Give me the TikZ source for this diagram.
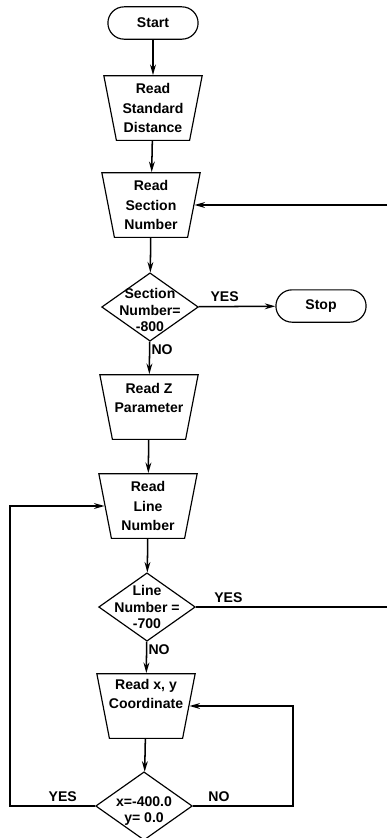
\documentclass[tikz,border=0pt]{standalone}
\usepackage{fontspec}
\setmainfont{Liberation Sans}
\usetikzlibrary{arrows.meta,shapes.geometric,shapes.misc}

\begin{document}
\begin{tikzpicture}[x=0.03cm,y=-0.03cm,
    every node/.style={font=\bfseries\fontsize{12}{17}\selectfont},
    term/.style={rounded rectangle,draw,line width=1pt,minimum width=2.94cm,minimum height=0.97cm},
    readbox/.style={trapezium,draw,line width=1pt,shape border rotate=180,trapezium angle=79,
        trapezium stretches body,minimum width=2.95cm,inner xsep=0pt,inner ysep=0.97cm},
    decide/.style={diamond,draw,line width=1pt,minimum width=2.9cm,minimum height=2.05cm,inner sep=0pt},
    boxtext/.style={align=center},
    inside/.style={align=center,font=\bfseries\fontsize{12}{14}\selectfont},
    flow/.style={-{Stealth[length=9pt,width=5pt]},line width=1.3pt},
    wire/.style={line width=1.3pt}]
    \useasboundingbox[fill=white] (0,0) rectangle (387,838);

    % main column
    \node[term] (start) at (153,23) {Start};
    \node[readbox,label={[boxtext]center:Read\\Standard\\Distance}] (rsd) at (153,108) {};
    \node[readbox,label={[boxtext]center:Read\\Section\\Number}] (rsn) at (151,205) {};
    \node[decide,label={[inside,yshift=-0.1cm]center:Section\\Number=\\-800}] (secq) at (150,307) {};
    \node[term] (stop) at (321,306) {Stop};
    \node[readbox,label={[boxtext,yshift=0.27cm]center:Read Z\\Parameter}] (rzp) at (149,407) {};
    \node[readbox,label={[boxtext]center:Read\\Line\\Number}] (rln) at (148,506) {};
    \node[decide,label={[inside]center:Line\\Number =\\-700}] (lineq) at (147,607) {};
    \node[readbox,label={[boxtext,yshift=0.36cm]center:Read x, y\\Coordinate}] (rxy) at (146,706) {};
    \node[decide,label={[inside,yshift=-0.15cm]center:x=-400.0\\y= 0.0}] (xyq) at (144,806) {};

    % loop ends
    \coordinate (edge) at (387,0);
    \coordinate (lft) at (10,0);
    \coordinate (rgt) at (293,0);

    \draw[flow] (start) -- (rsd);
    \draw[flow] (rsd) -- (rsn);
    \draw[flow] (rsn) -- (secq);
    \draw[flow] (secq) -- node[above,pos=0.34]{YES} (stop);
    \draw[flow] (secq) -- node[right,inner sep=1pt,pos=0.25]{NO} (rzp);
    \draw[flow] (rzp) -- (rln);
    \draw[flow] (rln) -- (lineq);
    \draw[wire] (lineq) -- node[above,pos=0.17]{YES} (lineq.east -| edge);
    \draw[flow] (rsn.east -| edge) -- (rsn);
    \draw[flow] (lineq) -- node[right,inner sep=1pt,pos=0.25]{NO} (rxy);
    \draw[flow] (rxy) -- (xyq);
    \draw[flow] (xyq.west) -- node[above,pos=0.38]{YES} (xyq.west -| lft) |- (rln.west);
    \draw[flow] (xyq.east) -- node[above,pos=0.26]{NO} (xyq.east -| rgt) |- (rxy.east);
\end{tikzpicture}
\end{document}
